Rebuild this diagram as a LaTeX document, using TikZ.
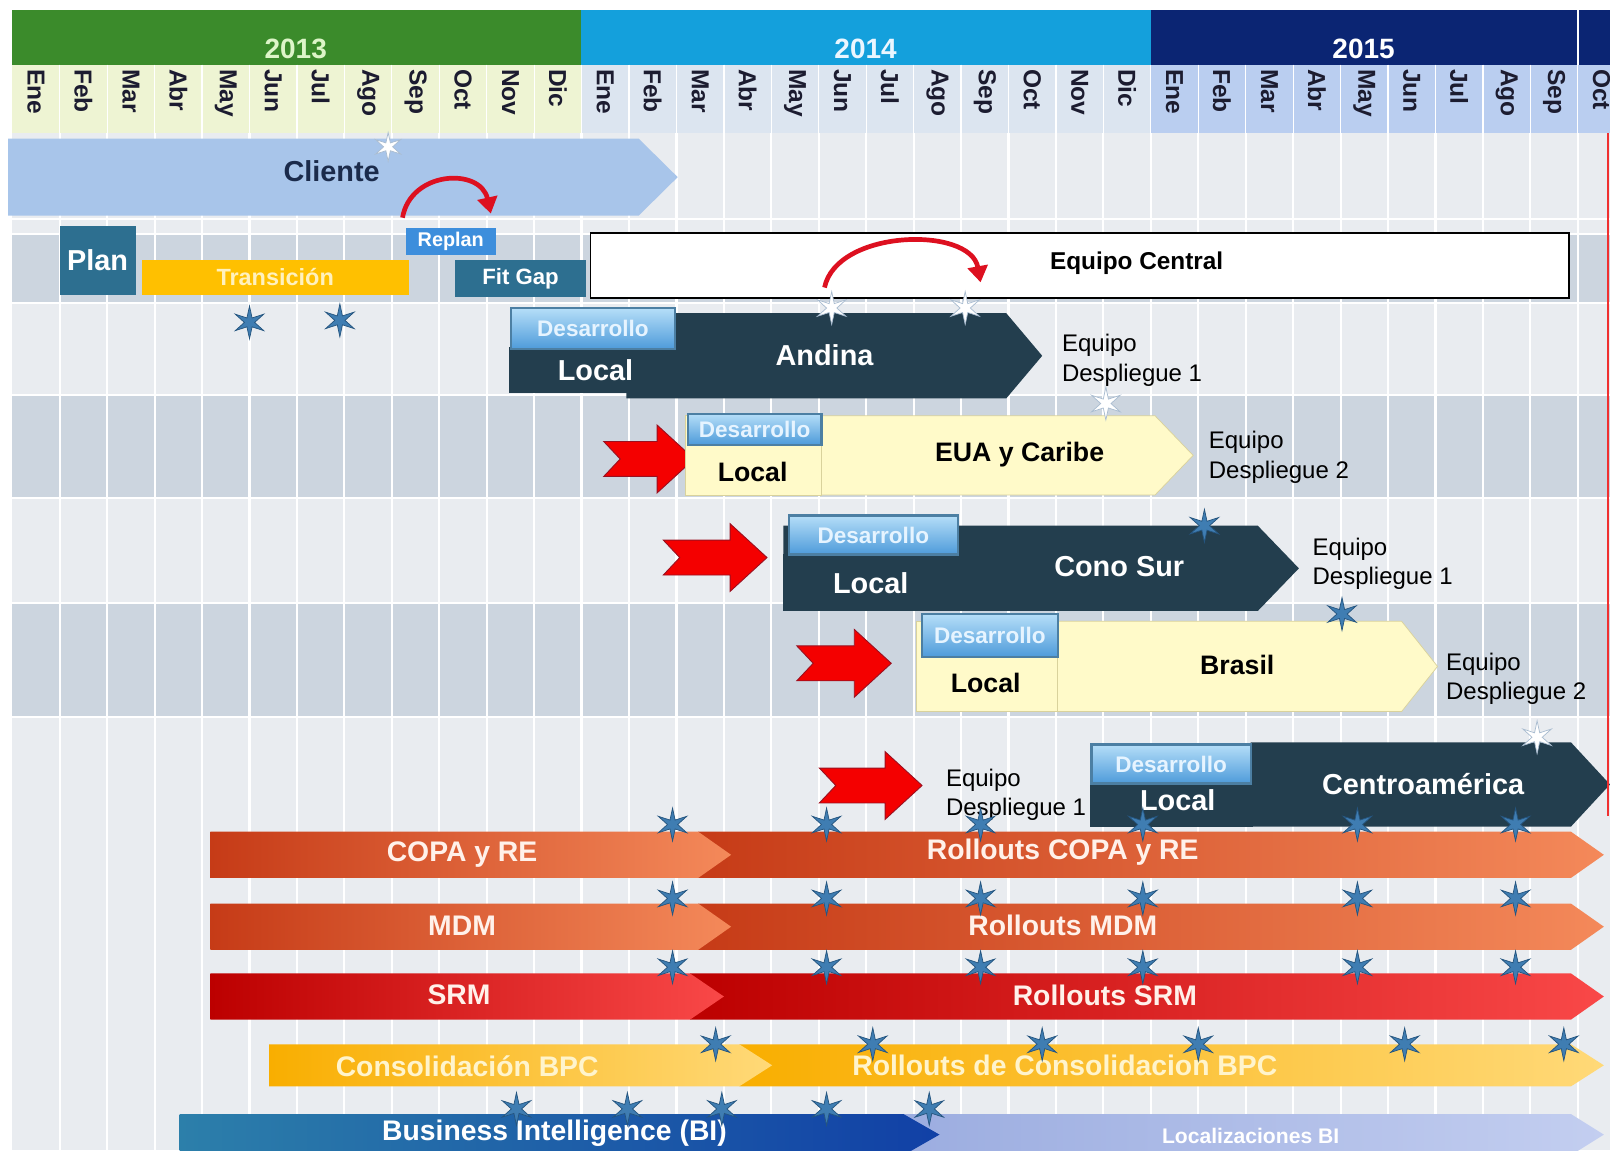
\documentclass[tikz,border=0pt]{standalone}
\usepackage{fontspec}
\setmainfont{Liberation Sans}
\usetikzlibrary{arrows.meta,shapes.geometric}
\definecolor{yr13}{HTML}{3B8B2B}
\definecolor{yr14}{HTML}{14A0DC}
\definecolor{yr15}{HTML}{0B2573}
\definecolor{yr13ink}{HTML}{DDF5C8}
\definecolor{yr14ink}{HTML}{EAF6FF}
\definecolor{mo13}{HTML}{EEF4D3}
\definecolor{mo14}{HTML}{DCE5F0}
\definecolor{mo15}{HTML}{BACEF0}
\definecolor{monthink}{HTML}{1C1C30}
\definecolor{rowlight}{HTML}{E9ECF0}
\definecolor{rowdark}{HTML}{CCD5DF}
\definecolor{clientblue}{HTML}{A8C5EA}
\definecolor{clientink}{HTML}{1B2B4B}
\definecolor{tealbox}{HTML}{2D6F90}
\definecolor{gold}{HTML}{FFC000}
\definecolor{goldink}{HTML}{FFF1BE}
\definecolor{replanblue}{HTML}{3D8EDC}
\definecolor{slate}{HTML}{233E4E}
\definecolor{paleyellow}{HTML}{FFFAC9}
\definecolor{paleedge}{HTML}{D9D29C}
\definecolor{devtop}{HTML}{B5DEF8}
\definecolor{devbot}{HTML}{4E9BDA}
\definecolor{devedge}{HTML}{4C7FA3}
\definecolor{devink}{HTML}{E6F4FF}
\definecolor{starblue}{HTML}{3F7DB2}
\definecolor{stardark}{HTML}{25557F}
\definecolor{starpale}{HTML}{A9BCD0}
\definecolor{arrowred}{HTML}{F40000}
\definecolor{arrowedge}{HTML}{9A1020}
\definecolor{arcred}{HTML}{DD1020}
\definecolor{copaL}{HTML}{C63B17}
\definecolor{copaR}{HTML}{F4895A}
\definecolor{srmL}{HTML}{BC0000}
\definecolor{srmR}{HTML}{F94848}
\definecolor{bpcL}{HTML}{F9AE00}
\definecolor{bpcR}{HTML}{FFD978}
\definecolor{biL}{HTML}{2C7FAA}
\definecolor{biR}{HTML}{1140A6}
\definecolor{locL}{HTML}{9CADE0}
\definecolor{locR}{HTML}{C3CEF0}
\definecolor{barink}{HTML}{FFF1EA}
\definecolor{bpcink}{HTML}{FFF4CC}
\definecolor{todayred}{HTML}{F03030}
\tikzset{
  yearlbl/.style={font=\bfseries\fontsize{15.5}{17}\selectfont, inner sep=0pt},
  monthlbl/.style={font=\bfseries\fontsize{13.6}{15}\selectfont, text=monthink, rotate=-90, anchor=west, inner sep=0pt},
  biglbl/.style={font=\bfseries\fontsize{16}{18}\selectfont, inner sep=0pt},
  midlbl/.style={font=\bfseries\fontsize{14.8}{17}\selectfont, inner sep=0pt},
  barlbl/.style={font=\bfseries\fontsize{15.7}{18}\selectfont, inner sep=0pt, text=barink},
  teamlbl/.style={font=\fontsize{13.3}{16.5}\selectfont, align=left, anchor=west, inner sep=0pt},
  tagbox/.style={rectangle, inner sep=0pt, text=white, font=\bfseries\fontsize{12.3}{14}\selectfont},
  devbtn/.style={rectangle, draw=devedge, line width=1.2pt, top color=devtop, bottom color=devbot, text=devink, inner sep=0pt, font=\bfseries\fontsize{12.5}{14}\selectfont},
  milestone/.style={star, star points=6, star point ratio=3.2, minimum size=0.64cm, inner sep=0pt, fill=starblue, draw=stardark, line width=0.4pt},
  ghost/.style={milestone, fill=white, draw=starpale},
  push/.style={fill=arrowred, draw=arrowedge, line width=0.5pt},
  swing/.style={draw=arcred, line width=2.6pt, -{Triangle[length=9pt,width=11pt]}},
  gridline/.style={white, line width=1.2pt},
  copabar/.style={left color=copaL, right color=copaR},
  srmbar/.style={left color=srmL, right color=srmR},
  bpcbar/.style={left color=bpcL, right color=bpcR},
  bibar/.style={left color=biL, right color=biR},
  locbar/.style={left color=locL, right color=locR}
}
% red push arrow: tail point, length
\newcommand{\pusharrow}[2]{\filldraw[push, shift={(#1)}] (0,-17) -- ({#2-36},-17) -- ({#2-36},-33) -- (#2,0) -- ({#2-36},33) -- ({#2-36},17) -- (0,17) -- (16,0) -- cycle;}
\begin{document}
\begin{tikzpicture}[x=0.02cm, y=-0.02cm]
  \clip (0,0) rectangle (1568,1120);
  \fill[white] (0,0) rectangle (1568,1120);
  % rows and grid
  \fill[rowlight] (12,130) rectangle (1568,1120);
  \foreach \ya/\yb in {228/295, 385/485, 587/698}
    \fill[rowdark] (12,\ya) rectangle (1568,\yb);
  \foreach \i in {1,...,33}
    \draw[gridline] ({12+46.2*\i},130) -- ({12+46.2*\i},1120);
  \foreach \y in {213,228,295,385,485,587,698}
    \draw[gridline] (12,\y) -- (1568,\y);

  % years
  \fill[yr13] (12,10) rectangle (566,63);
  \fill[yr14] (566,10) rectangle (1121,63);
  \fill[yr15] (1121,10) rectangle (1568,63);
  \draw[white, line width=0.8pt] (1537,10) -- (1537,63);
  \node[yearlbl, text=yr13ink] (y2013) at (288,48) {2013};
  \node[yearlbl, text=yr14ink] (y2014) at (843,48) {2014};
  \node[yearlbl, text=white] (y2015) at (1328,48) {2015};

  % months
  \fill[mo13] (12,63) rectangle (566,130);
  \fill[mo14] (566,63) rectangle (1121,130);
  \fill[mo15] (1121,63) rectangle (1568,130);
  \foreach \i in {1,...,33}
    \draw[white, line width=0.7pt] ({12+46.2*\i},63) -- ({12+46.2*\i},130);
  \foreach \m [count=\i from 0] in {Ene,Feb,Mar,Abr,May,Jun,Jul,Ago,Sep,Oct,Nov,Dic,Ene,Feb,Mar,Abr,May,Jun,Jul,Ago,Sep,Oct,Nov,Dic,Ene,Feb,Mar,Abr,May,Jun,Jul,Ago,Sep,Oct}
    \node[monthlbl] (mo\i) at ({12+46.2*(\i+0.5)},67) {\m};

  % cliente
  \fill[clientblue] (8,135) -- (622,135) -- (660,172.5) -- (622,210) -- (8,210) -- cycle;
  \node[biglbl, text=clientink] (cliente) at (323,167) {Cliente};

  % plan, transicion, replan, fit gap, equipo central
  \node[tagbox, fill=tealbox, minimum width=1.48cm, minimum height=1.34cm, font=\bfseries\fontsize{16}{18}\selectfont] (plan) at (95,253.5) {Plan};
  \node[tagbox, fill=gold, text=goldink, minimum width=5.2cm, minimum height=0.68cm, font=\bfseries\fontsize{13}{15}\selectfont] (transicion) at (268,270) {Transición};
  \node[tagbox, fill=replanblue, minimum width=1.76cm, minimum height=0.52cm, font=\bfseries\fontsize{11}{13}\selectfont] (replan) at (439,235) {Replan};
  \node[tagbox, fill=tealbox, minimum width=2.56cm, minimum height=0.72cm] (fitgap) at (507,271) {Fit Gap};
  \node[rectangle, draw=black, line width=1.1pt, fill=white, minimum width=19.06cm, minimum height=1.26cm] (central) at (1051.5,258.5) {};
  \node[font=\bfseries\fontsize{13.5}{15}\selectfont, inner sep=0pt] (central-txt) at (1107,256) {Equipo Central};

  % andina
  \fill[slate] (610,305) -- (980,305) -- (1015,346.5) -- (980,388) -- (610,388) -- cycle;
  \fill[slate] (496,338) rectangle (660,383);
  \node[devbtn, minimum width=3.18cm, minimum height=0.8cm] (andina-dev) at (577.5,320) {Desarrollo};
  \node[biglbl, text=white] (andina-local) at (580,361) {Local};
  \node[biglbl, text=white] (andina) at (803,346) {Andina};
  \node[teamlbl] (andina-team) at (1034,351) {Equipo\\Despliegue 1};

  % eua y caribe
  \pusharrow{588,447}{88}
  \filldraw[fill=paleyellow, draw=paleedge] (800,405) -- (1125,405) -- (1162,443.5) -- (1125,482) -- (800,482) -- cycle;
  \filldraw[fill=paleyellow, draw=paleedge] (667,405) rectangle (800,482);
  \node[devbtn, minimum width=2.6cm, minimum height=0.6cm] (eua-dev) at (735,418) {Desarrollo};
  \node[midlbl] (eua-local) at (733,460) {Local};
  \node[midlbl] (eua) at (993,443) {EUA y Caribe};
  \node[teamlbl] (eua-team) at (1177,445) {Equipo\\Despliegue 2};

  % cono sur
  \pusharrow{646,543}{101}
  \fill[slate] (763,512) -- (1225,512) -- (1265,553.5) -- (1225,595) -- (763,595) -- cycle;
  \fill[slate] (763,540) rectangle (935,595);
  \node[devbtn, minimum width=3.3cm, minimum height=0.76cm] (cono-dev) at (850.5,521) {Desarrollo};
  \node[biglbl, text=white] (cono-local) at (848,568) {Local};
  \node[biglbl, text=white] (cono) at (1090,552) {Cono Sur};
  \node[teamlbl] (cono-team) at (1278,549) {Equipo\\Despliegue 1};

  % brasil
  \pusharrow{776,646}{92}
  \filldraw[fill=paleyellow, draw=paleedge] (1030,605) -- (1365,605) -- (1400,649) -- (1365,693) -- (1030,693) -- cycle;
  \filldraw[fill=paleyellow, draw=paleedge] (892,605) rectangle (1030,693);
  \node[devbtn, minimum width=2.64cm, minimum height=0.84cm] (brasil-dev) at (964,619) {Desarrollo};
  \node[midlbl] (brasil-local) at (960,665) {Local};
  \node[midlbl] (brasil) at (1205,648) {Brasil};
  \node[teamlbl] (brasil-team) at (1408,661) {Equipo\\Despliegue 2};

  % centroamerica
  \pusharrow{798,765}{100}
  \node[teamlbl] (centro-team) at (921,774) {Equipo\\Despliegue 1};
  \fill[slate] (1218,723) -- (1530,723) -- (1568,764) -- (1530,805) -- (1218,805) -- cycle;
  \fill[slate] (1062,758) rectangle (1220,805);
  \node[devbtn, minimum width=3.1cm, minimum height=0.76cm] (centro-dev) at (1140.5,744) {Desarrollo};
  \node[biglbl, text=white] (centro-local) at (1147,779) {Local};
  \node[biglbl, text=white] (centro) at (1386,764) {Centroamérica};

  % long bars
  \shade[copabar] (680,810) -- (1530,810) -- (1562,832.5) -- (1530,855) -- (680,855) -- cycle;
  \shade[copabar] (205,810) -- (680,810) -- (712,832.5) -- (680,855) -- (205,855) -- cycle;
  \node[barlbl] (copa) at (450,832) {COPA y RE};
  \node[barlbl] (copa-roll) at (1035,830) {Rollouts COPA y RE};

  \shade[copabar] (680,880) -- (1530,880) -- (1562,902.5) -- (1530,925) -- (680,925) -- cycle;
  \shade[copabar] (205,880) -- (680,880) -- (712,902.5) -- (680,925) -- (205,925) -- cycle;
  \node[barlbl] (mdm) at (450,902) {MDM};
  \node[barlbl] (mdm-roll) at (1035,901) {Rollouts MDM};

  \shade[srmbar] (672,948) -- (1530,948) -- (1562,970.5) -- (1530,993) -- (672,993) -- cycle;
  \shade[srmbar] (205,948) -- (672,948) -- (705,970.5) -- (672,993) -- (205,993) -- cycle;
  \node[barlbl] (srm) at (447,969) {SRM};
  \node[barlbl] (srm-roll) at (1076,969) {Rollouts SRM};

  \shade[bpcbar] (720,1017) -- (1530,1017) -- (1562,1037.5) -- (1530,1058) -- (720,1058) -- cycle;
  \shade[bpcbar] (262,1017) -- (720,1017) -- (752,1037.5) -- (720,1058) -- (262,1058) -- cycle;
  \node[barlbl, text=bpcink] (bpc) at (455,1038) {Consolidación BPC};
  \node[barlbl, text=bpcink] (bpc-roll) at (1037,1038) {Rollouts de Consolidacion BPC};

  \shade[locbar] (880,1085) -- (1530,1085) -- (1562,1105) -- (1530,1125) -- (880,1125) -- cycle;
  \shade[bibar] (175,1085) -- (880,1085) -- (915,1105) -- (880,1125) -- (175,1125) -- cycle;
  \node[barlbl, text=white] (bi) at (540,1104) {Business Intelligence (BI)};
  \node[font=\bfseries\fontsize{11.7}{13}\selectfont, text=white, inner sep=0pt] (bi-loc) at (1218,1106) {Localizaciones BI};

  % today line
  \draw[todayred, line width=1pt] (1566,130) -- (1566,795);

  % replanning arcs
  \coordinate (replan-from) at (392,212);
  \coordinate (replan-to) at (478,208);
  \draw[swing] (replan-from) .. controls (400,166) and (468,163) .. (replan-to);
  \coordinate (central-from) at (803,280);
  \coordinate (central-to) at (955,275);
  \draw[swing] (central-from) .. controls (815,223) and (945,220) .. (central-to);

  % milestones
  \node[ghost, minimum size=0.56cm] (m-cli) at (378,143) {};
  \node[milestone] (m-tr1) at (243,314) {};
  \node[milestone] (m-tr2) at (331,312) {};
  \node[ghost] (m-and1) at (810,300) {};
  \node[ghost] (m-and2) at (940,300) {};
  \node[ghost] (m-eua) at (1077,393) {};
  \node[milestone] (m-cono) at (1173,512) {};
  \node[milestone] (m-bra) at (1307,598) {};
  \node[ghost] (m-cen) at (1497,718) {};
  \foreach \x [count=\k] in {655,805,955,1113,1322,1476} {
    \node[milestone] (m-copa\k) at (\x,803) {};
    \node[milestone] (m-mdm\k) at (\x,875) {};
    \node[milestone] (m-srm\k) at (\x,942) {};
  }
  \foreach \x [count=\k] in {697,850,1015,1167,1368,1523}
    \node[milestone] (m-bpc\k) at (\x,1017) {};
  \foreach \x [count=\k] in {503,611,703,805,905}
    \node[milestone] (m-bi\k) at (\x,1080) {};
\end{tikzpicture}
\end{document}
